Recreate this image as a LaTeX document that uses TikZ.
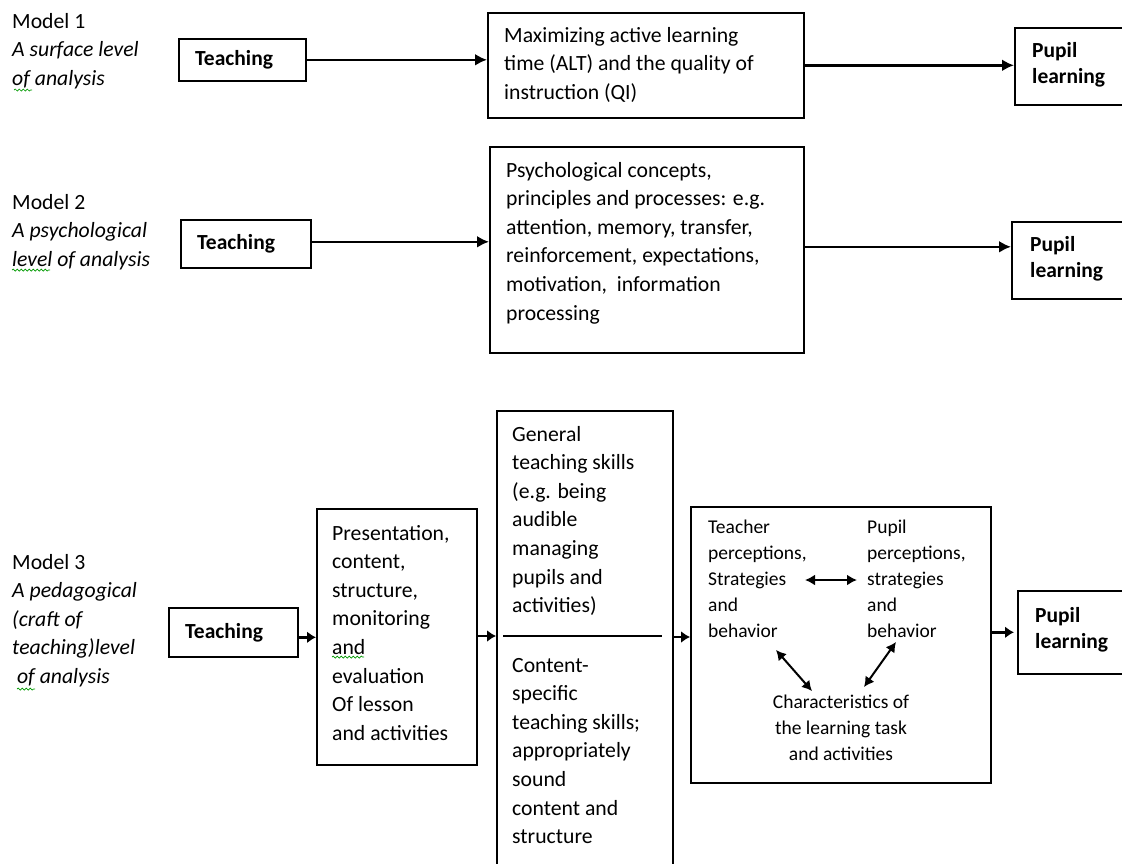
\documentclass[tikz,border=0pt]{standalone}
\usepackage{fontspec}
\setmainfont{Carlito}
\usetikzlibrary{arrows.meta,decorations.pathmorphing,calc}
\newcommand\mlL[1]{\vtop{\halign{##\hfil\cr#1\crcr}}}
\newcommand\mlC[1]{\vtop{\halign{\hfil##\hfil\cr#1\crcr}}}
\begin{document}
\begin{tikzpicture}[x=1pt,y=-1pt,
  box/.style={draw, line width=1.6pt, rectangle, inner sep=0pt, anchor=north west},
  txt/.style={anchor=base west, inner sep=0pt},
  big/.style={font=\fontsize{21.7}{28.6}\selectfont},
  bigb/.style={font=\fontsize{21.5}{26}\selectfont\bfseries},
  small/.style={font=\fontsize{19.5}{26}\selectfont},
  arr/.style={line width=2.4pt, -{Latex[length=12pt,width=12pt]}},
  sarr/.style={line width=2.6pt, -{Latex[length=9pt,width=12pt]}},
  darr/.style={line width=2pt, {Latex[length=10pt,width=11pt]}-{Latex[length=10pt,width=11pt]}},
  squig/.style={draw=green!60!black, line width=0.7pt, decorate, decoration={snake, amplitude=1pt, segment length=4pt}}
]
\useasboundingbox (0,0) rectangle (1122,863);
\clip (0,0) rectangle (1122,863);

% ---------- Model 1 ----------
\node[txt, big] (m1) at (12,28) {\mlL{Model 1\cr\itshape A surface level\cr\itshape of analysis}};
\node[box, minimum width=127pt, minimum height=42pt] (t1) at (178,38) {};
\node[txt, bigb] (t1x) at (195,65) {Teaching};
\node[box, minimum width=316pt, minimum height=105pt] (b1) at (487,12) {};
\node[txt, big] (b1x) at (504,42) {\mlL{Maximizing active learning\cr time (ALT) and the quality of\cr instruction (QI)}};
\node[box, minimum width=112pt, minimum height=77pt] (p1) at (1014,27) {};
\node[txt, bigb] (p1x) at (1032,57) {\mlL{Pupil\cr learning}};
\draw[arr] (t1.east) -- (t1.east -| b1.west);
\draw[arr] (b1.east) -- (b1.east -| p1.west);

% ---------- Model 2 ----------
\node[txt, big] (m2) at (12,209) {\mlL{Model 2\cr\itshape A psychological\cr\itshape level of analysis}};
\node[box, minimum width=130pt, minimum height=48pt] (t2) at (180,219) {};
\node[txt, bigb] (t2x) at (197,249) {Teaching};
\node[box, minimum width=314pt, minimum height=206pt] (b2) at (489,146) {};
\node[txt, big] (b2x) at (506,177) {\mlL{Psychological concepts,\cr principles and processes: e.g.\cr attention, memory, transfer,\cr reinforcement, expectations,\cr motivation, \ information\cr processing}};
\node[box, minimum width=115pt, minimum height=77pt] (p2) at (1011,221) {};
\node[txt, bigb] (p2x) at (1030,251) {\mlL{Pupil\cr learning}};
\draw[arr] ([yshift=2pt]t2.east) -- ([yshift=2pt]t2.east -| b2.west);
\draw[arr] ([yshift=3pt]b2.east) -- ([yshift=3pt]b2.east -| p2.west);

% ---------- Model 3 ----------
\node[txt, big] (m3) at (12,569) {\mlL{Model 3\cr\itshape A pedagogical\cr\itshape (craft of\cr\itshape teaching)level\cr\itshape\ of analysis}};
\node[box, minimum width=129pt, minimum height=49pt] (t3) at (168,607) {};
\node[txt, bigb] (t3x) at (185,638) {Teaching};
\node[box, minimum width=160pt, minimum height=256pt] (pr) at (316,508) {};
\node[txt, big] (prx) at (332,540) {\mlL{Presentation,\cr content,\cr structure,\cr monitoring\cr and\cr evaluation\cr Of lesson\cr and activities}};
\node[box, minimum width=176pt, minimum height=470pt] (gs) at (496,410) {};
\node[txt, big] (gsx) at (512,441) {\mlL{General\cr teaching skills\cr (e.g. being\cr audible\cr managing\cr pupils and\cr activities)}};
\node[txt, big] (csx) at (512,672) {\mlL{Content-\cr specific\cr teaching skills;\cr appropriately\cr sound\cr content and\cr structure}};
\coordinate (sepL) at (503,636);
\coordinate (sepR) at (662,636);
\draw[line width=2.4pt] (sepL) -- (sepR);
\node[box, minimum width=300pt, minimum height=276pt] (ib) at (690,506) {};
\node[txt, small] (tp) at (708,533) {\mlL{Teacher\cr perceptions,\cr Strategies\cr and\cr behavior}};
\node[txt, small] (pp) at (867,533) {\mlL{Pupil\cr perceptions,\cr strategies\cr and\cr behavior}};
\node[anchor=base, inner sep=0pt, small] (ch) at (841,708) {\mlC{Characteristics of\cr the learning task\cr and activities}};
\node[box, minimum width=110pt, minimum height=83pt] (p3) at (1017,590) {};
\node[txt, bigb] (p3x) at (1035,622) {\mlL{Pupil\cr learning}};

\coordinate (a1) at (805,580);
\coordinate (a2) at (857,580);
\coordinate (a3) at (776,650);
\coordinate (a4) at (812,691);
\coordinate (a5) at (896,642);
\coordinate (a6) at (864,687);
\draw[darr] (a1) -- (a2);
\draw[darr] (a3) -- (a4);
\draw[darr] (a5) -- (a6);

\draw[sarr] ([yshift=-5pt]t3.east) -- ([yshift=-5pt]t3.east -| pr.west);
\draw[sarr] (pr.east |- sepL) -- (gs.west |- sepL);
\draw[sarr] ([yshift=-1pt]gs.east |- sepL) -- ([yshift=-1pt]ib.west |- sepL);
\draw[sarr] (ib.east |- p3.west) -- ([xshift=-3pt]p3.west);

% spell-check squiggles
\draw[squig] (14,90) -- (32,90);
\draw[squig] (12,270) -- (50,270);
\draw[squig] (17,689) -- (35,689);
\draw[squig] (332,657) -- (364,657);
\end{tikzpicture}
\end{document}
